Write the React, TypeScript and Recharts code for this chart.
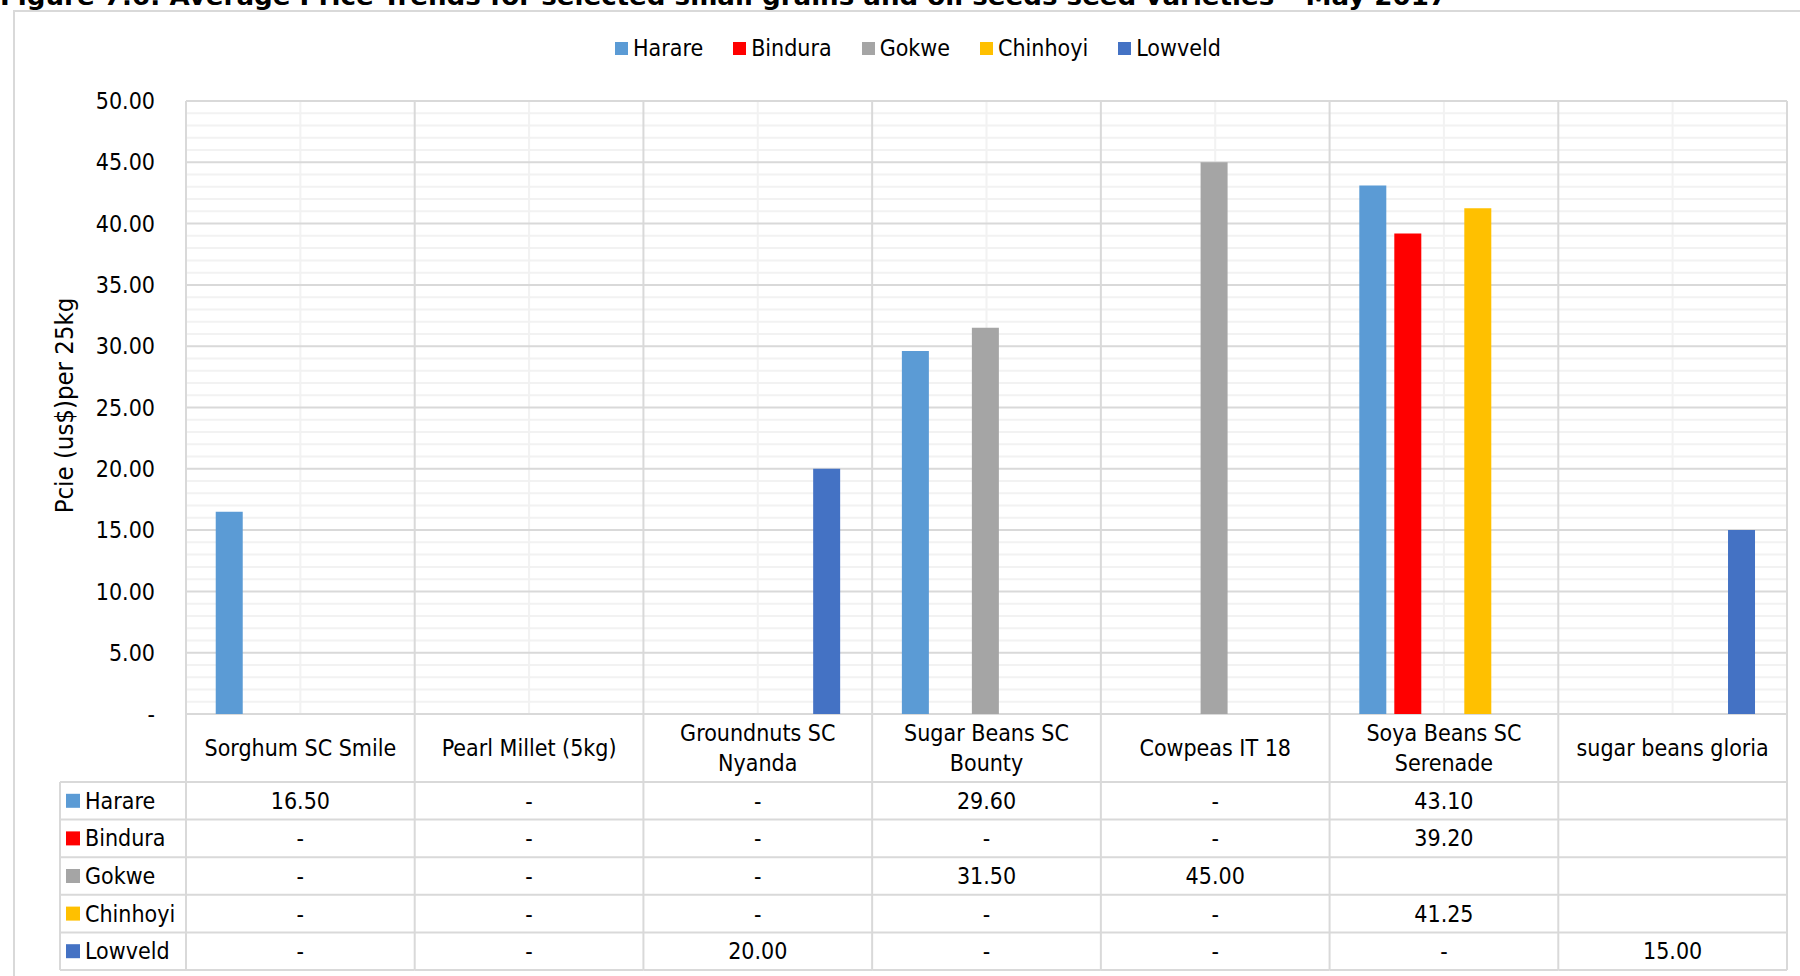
import React from 'react';
import { BarChart, Bar, XAxis, YAxis, CartesianGrid, Label } from 'recharts';

// categories and table header lines
const CATEGORIES = [
  'Sorghum SC Smile',
  'Pearl Millet (5kg)',
  'Groundnuts SC Nyanda',
  'Sugar Beans SC Bounty',
  'Cowpeas IT 18',
  'Soya Beans SC Serenade',
  'sugar beans gloria',
];
const CATEGORY_LINES = [
  ['Sorghum SC Smile'],
  ['Pearl Millet (5kg)'],
  ['Groundnuts SC', 'Nyanda'],
  ['Sugar Beans SC', 'Bounty'],
  ['Cowpeas IT 18'],
  ['Soya Beans SC', 'Serenade'],
  ['sugar beans gloria'],
];

// series values (null = empty cell, 0 = "-")
const SERIES = ['Harare', 'Bindura', 'Gokwe', 'Chinhoyi', 'Lowveld'];
const COLORS: Record<string, string> = {
  Harare: '#5B9BD5',
  Bindura: '#FF0000',
  Gokwe: '#A5A5A5',
  Chinhoyi: '#FFC000',
  Lowveld: '#4472C4',
};
const HARARE = [16.5, 0, 0, 29.6, 0, 43.1, null];
const BINDURA = [0, 0, 0, 0, 0, 39.2, null];
const GOKWE = [0, 0, 0, 31.5, 45.0, null, null];
const CHINHOYI = [0, 0, 0, 0, 0, 41.25, null];
const LOWVELD = [0, 0, 20.0, 0, 0, 0, 15.0];
const VALUES: Record<string, (number | null)[]> = {
  Harare: HARARE,
  Bindura: BINDURA,
  Gokwe: GOKWE,
  Chinhoyi: CHINHOYI,
  Lowveld: LOWVELD,
};

const Y_TICKS = [0, 5, 10, 15, 20, 25, 30, 35, 40, 45, 50];
const MINOR_Y: number[] = [];
for (let v = 1; v < 50; v++) if (v % 5 !== 0) MINOR_Y.push(v);

const TITLE = 'Figure 7.6: Average Price Trends for selected small grains and oil seeds seed varieties – May 2017';
const Y_LABEL = 'Pcie (us$)per 25kg';

const data = CATEGORIES.map((name, i) => {
  const row: Record<string, any> = { name };
  SERIES.forEach((s) => (row[s] = VALUES[s][i]));
  return row;
});

// layout
const W = 1800;
const H = 976;
const PLOT_LEFT = 186;
const PLOT_RIGHT = 1787;
const PLOT_TOP = 101;
const BAND = (PLOT_RIGHT - PLOT_LEFT) / CATEGORIES.length;
const HEADER_H = 68;
const ROW_H = 37.6;
const ROW_LABEL_LEFT = 60;
const FONT = "'DejaVu Sans Condensed', 'DejaVu Sans', sans-serif";
const FS = 23;
const LINE = '#d9d9d9';
const MINOR = '#f2f2f2';

const fmt = (v: number | null) => (v == null ? '' : v === 0 ? '-' : v.toFixed(2));

function TableTick(props: any) {
  const { x, y, payload } = props;
  const i = props.index ?? payload.index ?? CATEGORIES.indexOf(payload.value);
  const left = x - BAND / 2;
  const right = x + BAND / 2;
  const bottom = y + HEADER_H + ROW_H * SERIES.length;
  const lines = CATEGORY_LINES[i] || [payload.value];
  const headerMid = y + HEADER_H / 2;
  return (
    <g>
      <line x1={left} x2={left} y1={y} y2={bottom} stroke={LINE} strokeWidth={2} />
      {i === CATEGORIES.length - 1 && (
        <line x1={right} x2={right} y1={y} y2={bottom} stroke={LINE} strokeWidth={2} />
      )}
      {SERIES.map((s, k) => (
        <line
          key={s}
          x1={left}
          x2={right}
          y1={y + HEADER_H + ROW_H * k}
          y2={y + HEADER_H + ROW_H * k}
          stroke={LINE}
          strokeWidth={2}
        />
      ))}
      <line x1={left} x2={right} y1={bottom} y2={bottom} stroke={LINE} strokeWidth={2} />
      {lines.map((t: string, k: number) => (
        <text
          key={k}
          x={x}
          y={headerMid + (k - (lines.length - 1) / 2) * 30}
          textAnchor="middle"
          dominantBaseline="central"
          fontFamily={FONT}
          fontSize={FS}
          fill="#000"
        >
          {t}
        </text>
      ))}
      {SERIES.map((s, k) => (
        <text
          key={s}
          x={x}
          y={y + HEADER_H + ROW_H * (k + 0.5)}
          textAnchor="middle"
          dominantBaseline="central"
          fontFamily={FONT}
          fontSize={FS}
          fill="#000"
        >
          {fmt(VALUES[s][i])}
        </text>
      ))}
      {i === 0 && (
        <g>
          <line x1={ROW_LABEL_LEFT} x2={ROW_LABEL_LEFT} y1={y + HEADER_H} y2={bottom} stroke={LINE} strokeWidth={2} />
          {SERIES.map((s, k) => {
            const cy = y + HEADER_H + ROW_H * (k + 0.5);
            return (
              <g key={s}>
                <line
                  x1={ROW_LABEL_LEFT}
                  x2={left}
                  y1={y + HEADER_H + ROW_H * k}
                  y2={y + HEADER_H + ROW_H * k}
                  stroke={LINE}
                  strokeWidth={2}
                />
                <rect x={ROW_LABEL_LEFT + 6} y={cy - 7} width={14} height={14} fill={COLORS[s]} />
                <text
                  x={ROW_LABEL_LEFT + 25}
                  y={cy}
                  dominantBaseline="central"
                  fontFamily={FONT}
                  fontSize={FS}
                  fill="#000"
                >
                  {s}
                </text>
              </g>
            );
          })}
          <line x1={ROW_LABEL_LEFT} x2={left} y1={bottom} y2={bottom} stroke={LINE} strokeWidth={2} />
        </g>
      )}
    </g>
  );
}

function YTitle(props: any) {
  const vb = props.viewBox || { x: 66, y: PLOT_TOP, width: 120, height: 613 };
  const cx = vb.x - 2;
  const cy = vb.y + vb.height / 2 - 2;
  return (
    <text
      x={cx}
      y={cy}
      transform={`rotate(-90 ${cx} ${cy})`}
      textAnchor="middle"
      dominantBaseline="central"
      fontFamily={FONT}
      fontSize={25.5}
      fill="#000"
    >
      {Y_LABEL}
    </text>
  );
}

const verticalLines = (odd: boolean) => (p: any) => {
  const off = p && p.offset ? p.offset : { left: PLOT_LEFT, width: PLOT_RIGHT - PLOT_LEFT };
  const out: number[] = [];
  const n = CATEGORIES.length * 2;
  for (let k = 0; k <= n; k++) if ((k % 2 === 1) === odd) out.push(off.left + (off.width * k) / n);
  return out;
};

export default function App() {
  return (
    <div
      style={{
        position: 'absolute',
        left: 0,
        top: 0,
        width: W,
        height: H,
        overflow: 'hidden',
        background: '#fff',
      }}
    >
      <svg style={{ position: 'absolute', left: 0, top: 0 }} width={W} height={20}>
        <text
          x={0}
          y={5}
          fontFamily={FONT}
          fontWeight="bold"
          fontSize={25}
          fill="#000"
          textLength={1447}
          lengthAdjust="spacingAndGlyphs"
        >
          {TITLE}
        </text>
      </svg>
      <div
        style={{
          position: 'absolute',
          left: 13,
          top: 10,
          width: 2000,
          height: 2000,
          borderLeft: `2px solid ${LINE}`,
          borderTop: `2px solid ${LINE}`,
        }}
      />
      <div
        style={{
          position: 'absolute',
          left: 615,
          top: 35,
          display: 'flex',
          alignItems: 'center',
          fontFamily: FONT,
          fontSize: FS,
          color: '#000',
        }}
      >
        {SERIES.map((s) => (
          <div key={s} style={{ display: 'flex', alignItems: 'center', marginRight: 30 }}>
            <span style={{ width: 13, height: 13, background: COLORS[s], marginRight: 5, display: 'inline-block' }} />
            <span>{s}</span>
          </div>
        ))}
      </div>
      <div style={{ position: 'absolute', left: 0, top: 0 }}>
        <BarChart
          width={W}
          height={H}
          data={data}
          margin={{ top: PLOT_TOP, right: W - PLOT_RIGHT, bottom: 6, left: 66 }}
          barCategoryGap="13%"
          barGap={8}
        >
          <CartesianGrid vertical={false} horizontalValues={MINOR_Y} stroke={MINOR} strokeWidth={2} />
          <CartesianGrid
            horizontal={false}
            verticalCoordinatesGenerator={verticalLines(true)}
            stroke={MINOR}
            strokeWidth={2}
          />
          <CartesianGrid vertical={false} horizontalValues={Y_TICKS} stroke={LINE} strokeWidth={2} />
          <CartesianGrid
            horizontal={false}
            verticalCoordinatesGenerator={verticalLines(false)}
            stroke={LINE}
            strokeWidth={2}
          />
          <XAxis
            dataKey="name"
            height={256}
            interval={0}
            axisLine={false}
            tickLine={false}
            tickSize={0}
            tickMargin={0}
            tick={<TableTick />}
          />
          <YAxis
            width={120}
            domain={[0, 50]}
            ticks={Y_TICKS}
            interval={0}
            axisLine={false}
            tickLine={false}
            tickSize={6}
            tickMargin={25}
            tickFormatter={(v: number) => (v === 0 ? '-' : v.toFixed(2))}
            tick={{ fontFamily: FONT, fontSize: FS, fill: '#000' }}
          >
            <Label content={<YTitle />} />
          </YAxis>
          {SERIES.map((s) => (
            <Bar key={s} dataKey={s} fill={COLORS[s]} isAnimationActive={false} />
          ))}
        </BarChart>
      </div>
    </div>
  );
}
